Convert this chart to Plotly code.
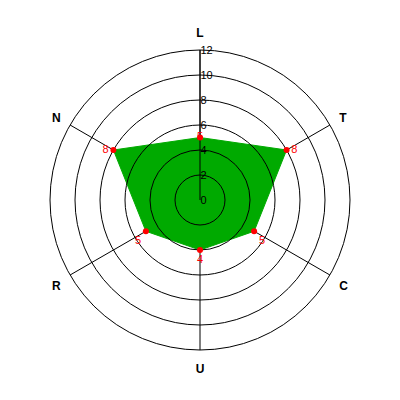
import plotly.graph_objects as go

categories = ["L", "T", "C", "U", "R", "N"]
values = [5, 8, 5, 4, 5, 8]
radial_ticks = [0, 2, 4, 6, 8, 10, 12]
radial_ticklabels = [str(v) for v in radial_ticks]

cat_closed = categories + categories[:1]
val_closed = values + values[:1]

fig = go.Figure()

# filled area (bottom polar)
fig.add_trace(go.Scatterpolar(
    r=val_closed, theta=cat_closed, mode="lines", fill="toself",
    fillcolor="rgb(0,170,0)", line=dict(color="rgb(0,170,0)", width=1),
    hoverinfo="skip", showlegend=False, subplot="polar"))

# markers + value labels (top polar)
text_pos = ["middle center", "middle right", "bottom right",
            "bottom center", "bottom left", "middle left"]
fig.add_trace(go.Scatterpolar(
    r=values, theta=categories, mode="markers+text",
    marker=dict(color="red", size=6),
    text=[str(v) for v in values], textposition=text_pos,
    textfont=dict(color="red", size=11, family="Liberation Sans"),
    showlegend=False, subplot="polar2"))

# body has an 8px margin in the page; compensate so the center lands at (200,200)
dom = dict(x=[0.105, 0.855], y=[0.145, 0.895])

fig.update_layout(
    width=400, height=400,
    margin=dict(l=0, r=0, t=0, b=0),
    paper_bgcolor="white",
    plot_bgcolor="white",
    polar=dict(
        domain=dom, bgcolor="white",
        radialaxis=dict(range=[0, 12], tickvals=radial_ticks, showgrid=False,
                        showticklabels=False, ticks="", showline=True,
                        linecolor="black", linewidth=1, angle=90),
        angularaxis=dict(categoryarray=categories, categoryorder="array",
                         rotation=90, direction="clockwise",
                         showgrid=True, gridcolor="black", gridwidth=1,
                         showline=True, linecolor="black", linewidth=1,
                         showticklabels=False, ticks=""),
    ),
    polar2=dict(
        domain=dom, bgcolor="rgba(0,0,0,0)",
        radialaxis=dict(range=[0, 12], tickvals=radial_ticks,
                        ticktext=radial_ticklabels,
                        showgrid=True, gridcolor="black", gridwidth=1,
                        showline=False, ticks="", angle=90, tickangle=90,
                        side="clockwise",
                        tickfont=dict(size=11, color="black", family="Liberation Sans")),
        angularaxis=dict(categoryarray=categories, categoryorder="array",
                         rotation=90, direction="clockwise",
                         showgrid=False, showline=False,
                         ticks="outside", ticklen=8, tickcolor="rgba(0,0,0,0)",
                         tickfont=dict(size=12, color="black",
                                       family="Liberation Sans", weight="bold")),
    ),
)

fig.write_html("out.html")
